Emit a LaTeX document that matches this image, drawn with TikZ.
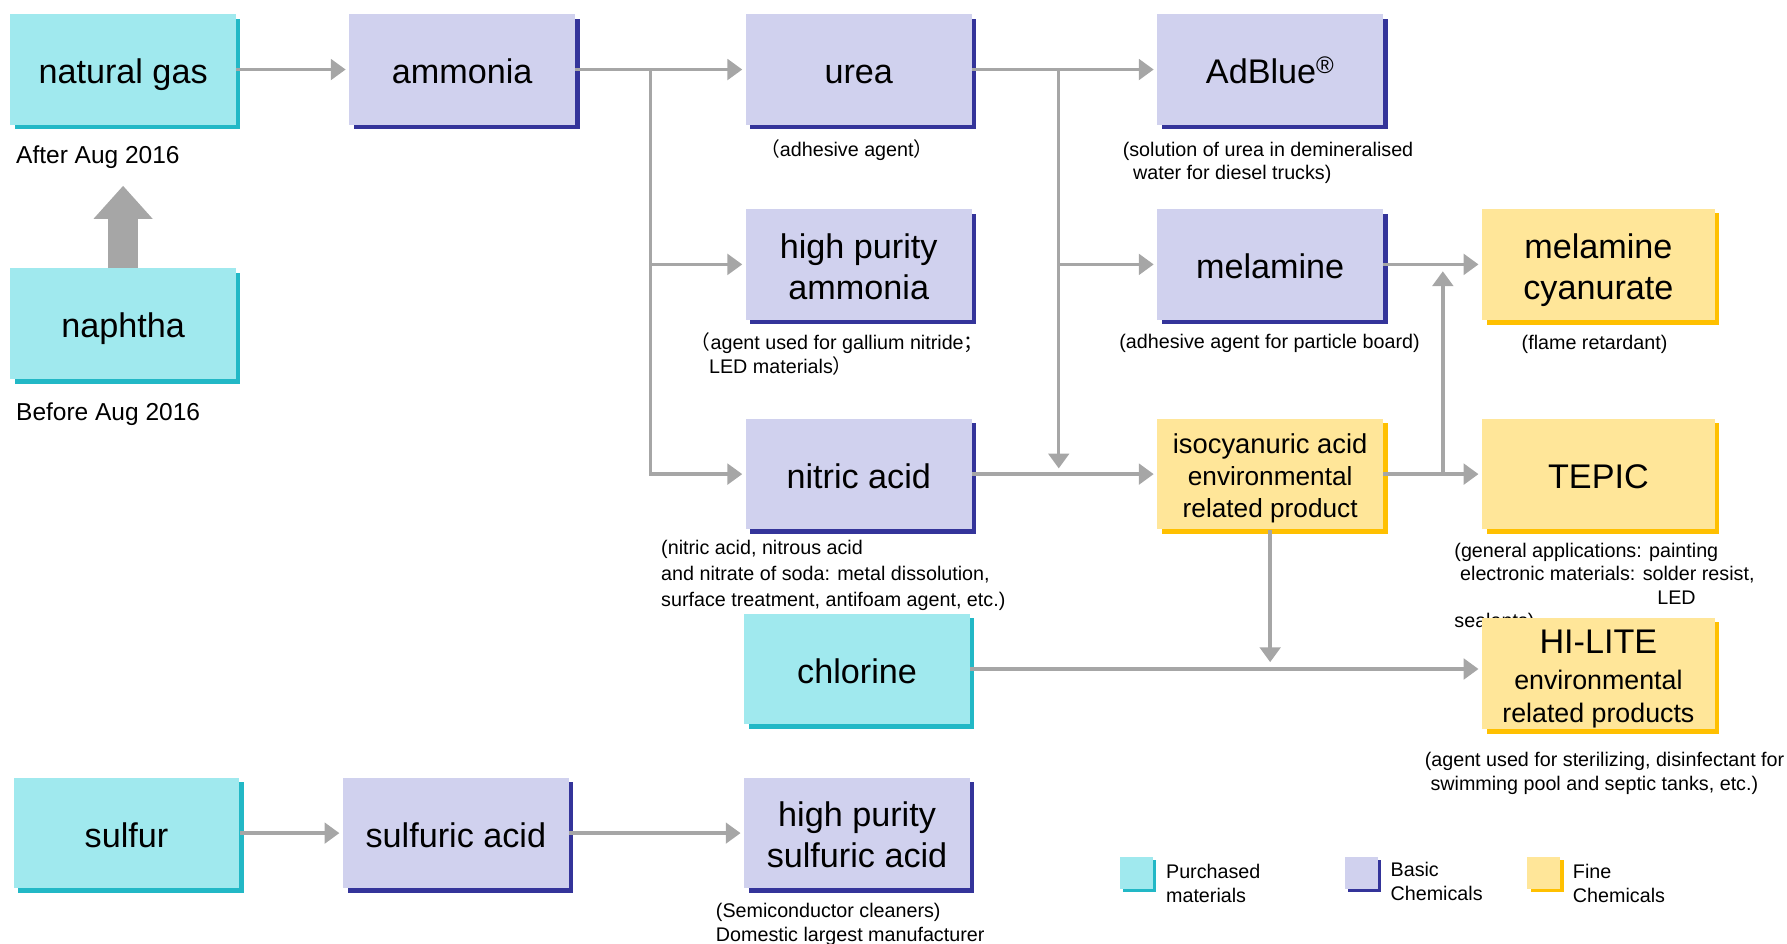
\documentclass[tikz,border=0pt]{standalone}
\usepackage{tikz}
\usetikzlibrary{arrows.meta,shadows}
\usepackage{xcolor}
\usepackage{fontspec}
\setmainfont{Liberation Sans}
\newfontfamily\cjk{Noto Sans CJK SC}
\definecolor{purfill}{HTML}{A0E9EE}
\definecolor{purshadow}{HTML}{22B8C6}
\definecolor{basfill}{HTML}{D0D1EE}
\definecolor{basshadow}{HTML}{34349A}
\definecolor{finfill}{HTML}{FFE699}
\definecolor{finshadow}{HTML}{FFC000}
\definecolor{flowgray}{HTML}{A6A6A6}
\newcommand\boxstrut{\rule[-0.212em]{0pt}{1.25em}}
\newcommand\boxtop{\rule{0pt}{1.038em}}
\newcommand\boxbot{\rule[-0.212em]{0pt}{0.212em}}

\begin{document}
\begin{tikzpicture}[x=1pt,y=-1pt,
		box/.style={rectangle, inner sep=0pt, minimum width=198pt, minimum height=97pt, align=center, font=\fontsize{30}{36}\selectfont,
			execute at begin node=\boxstrut, execute at end node=\boxstrut},
		purchased/.style={box, fill=purfill, drop shadow={fill=purshadow, opacity=1, shadow xshift=4pt, shadow yshift=-4pt}},
		basic/.style={box, fill=basfill, drop shadow={fill=basshadow, opacity=1, shadow xshift=4pt, shadow yshift=-4pt}},
		fine/.style={box, fill=finfill, drop shadow={fill=finshadow, opacity=1, shadow xshift=4pt, shadow yshift=-4pt}},
		note/.style={anchor=north west, inner sep=0pt, align=left, font=\fontsize{17.3}{21}\selectfont}]
		\tikzstyle{flow}=[draw=flowgray, line width=3pt, -{Triangle[length=13pt,width=18pt]}, shorten >=3pt]
		\tikzstyle{bigflow}=[draw=flowgray, line width=26pt, -{Triangle[length=29pt,width=50pt]}]
		\tikzstyle{key}=[inner sep=0pt, minimum width=29pt, minimum height=28pt]
		\useasboundingbox (0,0) rectangle (1568,828);
		% raw materials
		\node[purchased] (natgas) at (108,61) {natural gas};
		\node[purchased] (naphtha) at (108,284) {naphtha};
		\node[purchased] (chlorine) at (752,587) {chlorine};
		\node[purchased] (sulfur) at (111,731) {sulfur};
		\node[note, font=\fontsize{21.5}{25}\selectfont] (after) at (14,128) {After Aug 2016};
		\node[note, font=\fontsize{21.5}{25}\selectfont] (before) at (14,353) {Before Aug 2016};
		% basic chemicals
		\node[basic] (ammonia) at (405.5,61) {ammonia};
		\node[basic] (urea) at (753.5,61) {urea};
		\node[basic] (adblue) at (1114.5,61) {AdBlue\textsuperscript{®}};
		\node[basic] (hpammonia) at (753.5,232) {\boxtop high purity\\ammonia\boxbot};
		\node[basic] (melamine) at (1114.5,232) {melamine};
		\node[basic] (nitric) at (753.5,416) {nitric acid};
		\node[basic] (sulfuric) at (400,731) {sulfuric acid};
		\node[basic] (hpsulfuric) at (752,731) {\boxtop high purity\\sulfuric acid\boxbot};
		% fine chemicals
		\node[fine, minimum width=204pt, minimum height=98pt] (melcyan) at (1402.5,232) {\boxtop melamine\\cyanurate\boxbot};
		\node[fine, font=\fontsize{23}{28}\selectfont] (isocyan) at (1114.5,416) {{\fontsize{24}{28}\selectfont\boxtop isocyanuric acid}\\environmental\\related product\boxbot};
		\node[fine, minimum width=204pt] (tepic) at (1402.5,416) {TEPIC};
		\node[note, font=\fontsize{17.3}{20.7}\selectfont] (tepicnote) at (1276,476) {(general applications: painting\\\hspace*{5pt}electronic materials: solder resist,\\\hspace*{178pt}LED\\sealants)};
		\node[fine, minimum width=204pt, minimum height=98pt, font=\fontsize{23.5}{29.5}\selectfont] (hilite) at (1402.5,591) {{\fontsize{30}{30}\selectfont\boxtop HI-LITE}\\[1.5pt]environmental\\related products\boxbot};
		% uses
		\node[note, anchor=north] (ureanote) at (743,122) {{\cjk （}adhesive agent{\cjk ）}};
		\node[note] (hpammonianote) at (606,292) {{\cjk （}agent used for gallium nitride{\cjk ；}\\\hspace*{16pt}LED materials{\cjk ）}};
		\node[note, font=\fontsize{17.3}{22.5}\selectfont] (nitricnote) at (580,474) {(nitric acid, nitrous acid\\and nitrate of soda: metal dissolution,\\surface treatment, antifoam agent, etc.)};
		\node[note, font=\fontsize{17.3}{20}\selectfont] (adbluenote) at (985,125) {(solution of urea in demineralised\\\hspace*{9pt}water for diesel trucks)};
		\node[note] (melaminenote) at (982,293) {(adhesive agent for particle board)};
		\node[note] (melcyannote) at (1335,294) {(flame retardant)};
		\node[note] (hilitenote) at (1250,660) {(agent used for sterilizing, disinfectant for\\\hspace*{5pt}swimming pool and septic tanks, etc.)};
		\node[note] (hpsulfuricnote) at (628,792) {(Semiconductor cleaners)\\Domestic largest manufacturer};
		% legend
		\node[key, fill=purfill, drop shadow={fill=purshadow, opacity=1, shadow xshift=3pt, shadow yshift=-3pt}] (keypur) at (997,766) {};
		\node[key, fill=basfill, drop shadow={fill=basshadow, opacity=1, shadow xshift=3pt, shadow yshift=-3pt}] (keybas) at (1194.5,766) {};
		\node[key, fill=finfill, drop shadow={fill=finshadow, opacity=1, shadow xshift=3pt, shadow yshift=-3pt}] (keyfin) at (1354.5,766) {};
		\node[note] (keypurtext) at (1023,758) {Purchased\\materials};
		\node[note] (keybastext) at (1220,756) {Basic\\Chemicals};
		\node[note] (keyfintext) at (1380,758) {Fine\\Chemicals};
		% flows
		\coordinate (gastip) at (108,163);
		\coordinate (amsplit) at (571,61);
		\coordinate (ureasplit) at (929,61);
		\coordinate (ureadown) at (929,411);
		\coordinate (isosplit) at (1266,416);
		\coordinate (isoup) at (1266,238);
		\coordinate (isodown) at (1114.5,581);
		\draw[bigflow] (naphtha) -- (gastip);
		\draw[flow] (natgas) -- (ammonia);
		\draw[flow] (ammonia) -- (urea);
		\draw[flow] (amsplit) |- (hpammonia);
		\draw[flow] (amsplit) |- (nitric);
		\draw[flow] (urea) -- (adblue);
		\draw[flow] (ureasplit) |- (melamine);
		\draw[flow, shorten >=0pt] (ureasplit) -- (ureadown);
		\draw[flow] (nitric) -- (isocyan);
		\draw[flow] (melamine) -- (melcyan);
		\draw[flow] (isocyan) -- (tepic);
		\draw[flow, shorten >=0pt] (isosplit) -- (isoup);
		\draw[flow, shorten >=0pt] (isocyan) -- (isodown);
		\draw[flow] (chlorine) -- (chlorine -| hilite.west);
		\draw[flow] (sulfur) -- (sulfuric);
		\draw[flow] (sulfuric) -- (hpsulfuric);
		\end{tikzpicture}
\end{document}
